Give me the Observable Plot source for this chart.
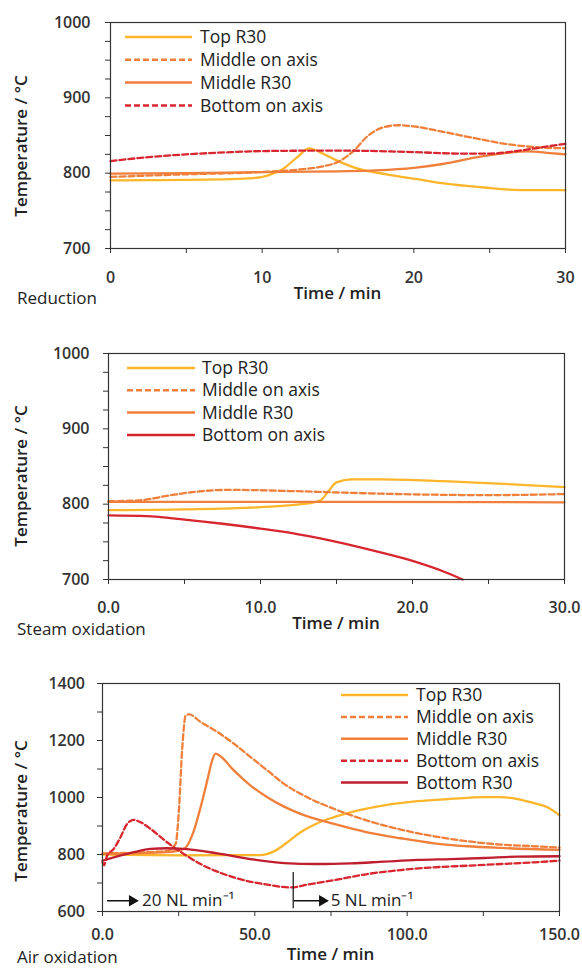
<!DOCTYPE html>
<html><head><meta charset="utf-8">
<script src="https://cdn.jsdelivr.net/npm/d3@7"></script>
<script src="https://cdn.jsdelivr.net/npm/@observablehq/plot@0.6"></script>
<style>
body{margin:0;background:#fff;}
#wrap{position:relative;width:582px;height:968px;font-family:"Open Sans",sans-serif;}
#wrap svg{position:absolute;left:0;overflow:visible;}
</style></head><body><div id="wrap"></div>
<script>
// ---------- Panel 1: Reduction ----------
const redTopT = [0,5,9.4,10.4,11.4,12.3,13.1,13.8,14.8,16.3,18.2,20.2,22.1,24.6,27,30];
const redTopV = [790.5,791,793.5,797,806,821,833,828,818,806,798.5,792,786,781,777.5,777.5];
const redMidAxT = [0,5,10,12.5,14,15,16,17,18,19,20,22,24,26,28,30];
const redMidAxV = [795,798.5,801.5,805,809,815,829,850,861,863.6,862,854.5,846.5,839,834.5,833];
const redMidR30T = [0,5,10,15,17.5,20,22,24,26,27.5,29,30];
const redMidR30V = [799.3,800,801.5,802.5,803.7,807,812.5,820.5,826.6,829,826.6,825];
const redBotAxT = [0,2.5,5,7.5,10,15,20,23,25,27,28.5,30];
const redBotAxV = [816,821.3,825,827.5,829.3,830,828,826,826,830,834.5,839];

// ---------- Panel 2: Steam oxidation ----------
const stTopT = [0,5,10,13,14,14.5,15,16,18,22,26,30];
const stTopV = [792,793,796,800.6,806,818,829,833,833,830.6,827,822.7];
const stMidAxT = [0,2,4,6,8,12,16,20,25,30];
const stMidAxV = [804,805,811.6,817,819,817.4,815,813,812,813.4];
const stMidR30T = [0,15,30];
const stMidR30V = [803,803,802.5];
const stBotAxT = [0,2.5,5,7.5,10,12.5,15,17.5,20,22,23.3];
const stBotAxV = [785,784,779.5,774,767.5,760,750,738,724.7,711,700];

// ---------- Panel 3: Air oxidation ----------
const airTopT = [0,25,51.9,56.3,60.7,65,70.5,76,82.6,92.4,103.4,114.3,125.3,130.7,136.2,141.7,146,150];
const airTopV = [799.5,797,798,811,843,878,909.7,931,951,972,987,995,1001,1001,994.6,980,966,938];
const airMidAxT = [0,10,21.2,24,25,26.2,27.3,28.4,32.2,37.7,43.1,48.6,54.1,59.6,65,76,86.9,97.9,108.8,119.8,130.7,141.7,150];
const airMidAxV = [804,806,813,837,942,1177,1288,1292,1265,1230,1189,1142,1095,1048,1013,960,919,887.5,864,846.4,834.7,829,824];
const airMidR30T = [0,10,21.2,26.7,30,32.2,34.4,36,37.1,38.8,43.1,48.6,54.1,59.6,65,76,86.9,97.9,108.8,119.8,130.7,150];
const airMidR30V = [802,804,808,819.5,884,966,1060,1130,1154,1144,1095,1042,1001,968,942.6,907.4,878,857,839.4,829,823,816];
const airBotAxT = [0,0.5,1.5,3.7,5.9,8.1,10.3,12.5,15.8,21.2,26.7,32.2,43.1,54.1,61.8,67.2,76,86.9,97.9,108.8,119.8,130.7,141.7,150];
const airBotAxV = [772,762,796,819.5,860.6,907.4,921.4,913,889.8,843,802,766.6,719.7,694,684.6,694,710,731.4,745.5,755,760.7,766.6,772.5,778.5];
const airBotR30T = [0,10.3,15.8,21.2,26.7,37.7,48.6,59.6,70.5,81.5,92.4,103.4,114.3,125.3,136.2,150];
const airBotR30V = [778,808,819.5,822,819.5,804,784,770,766.6,769,775,781,784,787.7,792.4,793.8];

// flow annotations (Air oxidation)
const flowArrowStart = [1.5, 62.8];
const flowArrowEnd = [11.4, 73.8];
const flowArrowTemp = [637.7, 637.7];
const flowLabels = ["20 NL min\u207B\u00B9", "5 NL min\u207B\u00B9"];
const flowLabelT = [13.0, 74.9];
const switchTime = [62.6];
const switchTemps = [737, 610];

// tick labels
const ticksRed = d3.range(700, 1001, 25);
const labelsRed = [700, 800, 900, 1000];
const xTicks30 = d3.range(0, 31, 5);
const xLabels30 = [0, 10, 20, 30];
const ticksAir = d3.range(600, 1401, 100);
const labelsAir = [600, 800, 1000, 1200, 1400];
const xTicks150 = d3.range(0, 151, 25);
const xLabels150 = [0, 50, 100, 150];

const C = {top:"#FDB52B", mid:"#EF7F3A", bot:"#D7262F", botDark:"#BE1E2D"};
const DASH = "6,3";
const FONT = "'Open Sans', sans-serif";

function rows(t, v){ return t.map((x,i)=>({t:x, T:v[i]})); }

function makePanel(cfg){
  const marks = [];
  cfg.series.forEach(s => {
    marks.push(Plot.line(rows(s.t, s.v), {x:"t", y:"T", stroke:s.color, strokeWidth:2.3,
      strokeDasharray: s.dash ? DASH : null, curve:"monotone-x"}));
  });
  marks.push(Plot.axisY(cfg.yTicks, {anchor:"left", tickSize:5, tickPadding:cfg.yPad, label:null,
    tickFormat: d => cfg.yLabels.includes(d) ? String(d) : "", fontSize:16, fontWeight:600}));
  marks.push(Plot.axisX(cfg.xTicks, {anchor:"bottom", tickSize:5, tickPadding:cfg.xPad, label:null,
    tickFormat: d => cfg.xLabels.includes(d) ? cfg.xFmt(d) : "", fontSize:16, fontWeight:600}));
  marks.push(Plot.frame({stroke:"#333", strokeWidth:1.2}));
  if (cfg.extra) marks.push(...cfg.extra);
  const svg = Plot.plot({
    width:582, height:cfg.height,
    marginTop:cfg.m[0], marginRight:cfg.m[1], marginBottom:cfg.m[2], marginLeft:cfg.m[3],
    x:{domain:cfg.xDomain}, y:{domain:cfg.yDomain},
    style:{fontFamily:FONT, color:"#333", background:"transparent"},
    marks
  });
  svg.style.top = cfg.top + "px";
  const s = d3.select(svg);
  // legend
  cfg.series.forEach((ser, i) => {
    const y = cfg.legend.y0 + i * cfg.legend.dy;
    s.append("line").attr("x1", cfg.legend.x1).attr("x2", cfg.legend.x2).attr("y1", y).attr("y2", y)
      .attr("stroke", ser.color).attr("stroke-width", 2.5).attr("stroke-dasharray", ser.dash ? DASH : null);
    s.append("text").attr("x", cfg.legend.tx).attr("y", y).attr("dy", "0.35em").attr("text-anchor", "start")
      .attr("font-size", 17.5).attr("font-family", FONT).attr("fill", "#222").text(ser.name);
  });
  // y label
  s.append("text").attr("transform", `translate(21.5,${cfg.yLabelY}) rotate(-90)`)
    .attr("text-anchor", "middle").attr("dy", "0.35em").attr("font-size", 17).attr("font-weight", 600)
    .attr("font-family", FONT).attr("fill", "#222").text("Temperature / \u00B0C");
  // x label
  s.append("text").attr("x", cfg.m[3] + (582 - cfg.m[1] - cfg.m[3]) / 2).attr("y", cfg.xLabelY)
    .attr("text-anchor", "middle").attr("dy", "0.35em").attr("font-size", 17).attr("font-weight", 600)
    .attr("font-family", FONT).attr("fill", "#222").text("Time / min");
  // caption
  s.append("text").attr("x", 17).attr("y", cfg.capY).attr("dy", "0.35em").attr("text-anchor", "start")
    .attr("font-size", 17).attr("font-family", FONT).attr("fill", "#222").text(cfg.caption);
  document.getElementById("wrap").appendChild(svg);
}

makePanel({
  top:0, height:320, m:[22,17,72,110], xDomain:[0,30], yDomain:[700,1000],
  yTicks:ticksRed, yLabels:labelsRed, xTicks:xTicks30, xLabels:xLabels30, xFmt:d=>String(d),
  yPad:15, xPad:18,
  series:[
    {name:"Top R30", t:redTopT, v:redTopV, color:C.top},
    {name:"Middle on axis", t:redMidAxT, v:redMidAxV, color:C.mid, dash:true},
    {name:"Middle R30", t:redMidR30T, v:redMidR30V, color:C.mid},
    {name:"Bottom on axis", t:redBotAxT, v:redBotAxV, color:C.bot, dash:true}
  ],
  legend:{x1:125, x2:192, tx:200, y0:37, dy:22.8},
  yLabelY:146, xLabelY:293, capY:298, caption:"Reduction"
});

makePanel({
  top:320, height:320, m:[33,18,61,108], xDomain:[0,30], yDomain:[700,1000],
  yTicks:ticksRed, yLabels:labelsRed, xTicks:xTicks30, xLabels:xLabels30, xFmt:d=>d.toFixed(1),
  yPad:14, xPad:17.5,
  series:[
    {name:"Top R30", t:stTopT, v:stTopV, color:C.top},
    {name:"Middle on axis", t:stMidAxT, v:stMidAxV, color:C.mid, dash:true},
    {name:"Middle R30", t:stMidR30T, v:stMidR30V, color:C.mid},
    {name:"Bottom on axis", t:stBotAxT, v:stBotAxV, color:C.bot}
  ],
  legend:{x1:127, x2:195, tx:202, y0:48, dy:22.3},
  yLabelY:156, xLabelY:303, capY:309, caption:"Steam oxidation"
});

const arrows = flowArrowStart.map((t0,i)=>({t0, t1:flowArrowEnd[i], T:flowArrowTemp[i], label:flowLabels[i], lt:flowLabelT[i]}));
makePanel({
  top:640, height:328, m:[43,23,57,102], xDomain:[0,150], yDomain:[600,1400],
  yTicks:ticksAir, yLabels:labelsAir, xTicks:xTicks150, xLabels:xLabels150, xFmt:d=>d.toFixed(1),
  yPad:12.5, xPad:12,
  series:[
    {name:"Top R30", t:airTopT, v:airTopV, color:C.top},
    {name:"Middle on axis", t:airMidAxT, v:airMidAxV, color:C.mid, dash:true},
    {name:"Middle R30", t:airMidR30T, v:airMidR30V, color:C.mid},
    {name:"Bottom on axis", t:airBotAxT, v:airBotAxV, color:C.bot, dash:true},
    {name:"Bottom R30", t:airBotR30T, v:airBotR30V, color:C.botDark}
  ],
  extra:[
    Plot.ruleX(switchTime, {y1:switchTemps[0], y2:switchTemps[1], stroke:"#222", strokeWidth:1.3}),
    Plot.link(arrows, {x1:"t0", x2:"t1", y1:"T", y2:"T", stroke:"#111", strokeWidth:1.5}),
    Plot.dot(arrows, {x:"t1", y:"T", symbol:"triangle", rotate:90, r:4.2, fill:"#111", stroke:null, dx:-5}),
    Plot.text(arrows, {x:"lt", y:"T", text:"label", textAnchor:"start", fontSize:17, fill:"#222", dy:0})
  ],
  legend:{x1:341, x2:408, tx:416, y0:55, dy:21.9},
  yLabelY:171, xLabelY:314, capY:317, caption:"Air oxidation"
});
</script></body></html>
